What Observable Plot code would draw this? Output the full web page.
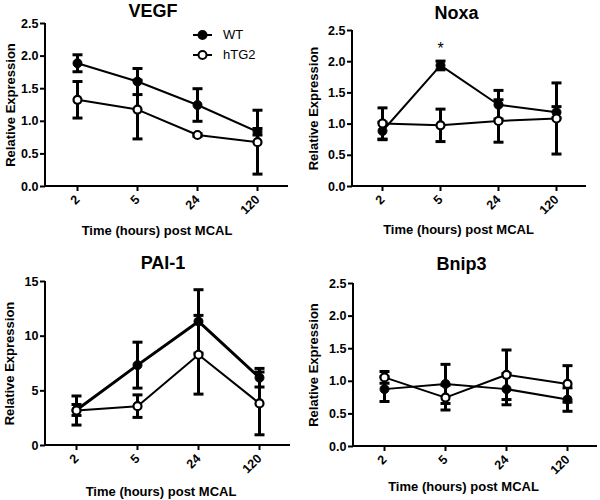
<!DOCTYPE html>
<html><head><meta charset="utf-8">
<script src="https://cdn.jsdelivr.net/npm/d3@7"></script>
<script src="https://cdn.jsdelivr.net/npm/@observablehq/plot@0.6"></script>
<style>
body{margin:0;background:#fff;}
#fig{position:relative;width:600px;height:500px;overflow:hidden;font-family:"Liberation Sans",Arial,sans-serif;background:#fff;}
.panel{position:absolute;}
.leg{position:absolute;font-size:13px;color:#000;line-height:13px;white-space:nowrap;}
.legsym{position:absolute;}
</style></head><body><div id="fig"></div>
<script>
// ---- data ----
const times = ["2", "5", "24", "120"];
const seriesNames = ["WT", "hTG2"];
const xLabel = "Time (hours) post MCAL";
const yLabel = "Relative Expression";

const vegfWT = [1.89, 1.61, 1.25, 0.84];
const vegfWTerr = [0.13, 0.20, 0.25, 0.05];
const vegfTG = [1.33, 1.18, 0.79, 0.68];
const vegfTGerr = [0.28, 0.45, 0.02, 0.49];

const noxaWT = [0.89, 1.94, 1.31, 1.19];
const noxaWTerr = [0.14, 0.07, 0.23, 0.09];
const noxaTG = [1.01, 0.98, 1.05, 1.09];
const noxaTGerr = [0.25, 0.26, 0.34, 0.57];
const noxaSignificant = ["5"];

const paiWT = [3.25, 7.35, 11.35, 6.2];
const paiWTerr = [0.5, 2.1, 2.9, 0.85];
const paiTG = [3.2, 3.6, 8.3, 3.85];
const paiTGerr = [1.33, 1.03, 3.6, 2.87];

const bnipWT = [0.88, 0.96, 0.88, 0.72];
const bnipWTerr = [0.19, 0.30, 0.24, 0.18];
const bnipTG = [1.06, 0.75, 1.10, 0.96];
const bnipTGerr = [0.09, 0.19, 0.38, 0.28];

const yTicksSmall = [0, 0.5, 1.0, 1.5, 2.0, 2.5];
const yTicksPAI = [0, 5, 10, 15];

// ---- build ----
function rows(means, errs) {
  return times.map((t, i) => ({time: t, y: means[i], lo: means[i] - errs[i], hi: means[i] + errs[i]}));
}

function axisLines(index, scales, values, dims) {
  const {width, height, marginLeft, marginRight, marginTop, marginBottom} = dims;
  const p = document.createElementNS("http://www.w3.org/2000/svg", "path");
  p.setAttribute("d", `M${marginLeft},${marginTop}V${height - marginBottom}H${width - marginRight}`);
  p.setAttribute("fill", "none");
  p.setAttribute("stroke", "#000");
  p.setAttribute("stroke-width", "2");
  return p;
}

// horizontal cap symbol for error bars
const capSymbol = {draw(ctx) { ctx.moveTo(-5, 0); ctx.lineTo(5, 0); }};

const panels = [
  {title: "VEGF", wt: rows(vegfWT, vegfWTerr), tg: rows(vegfTG, vegfTGerr), ticks: yTicksSmall, domain: [0, 2.5], fmt: ".1f",
   left: 0, top: 0, mt: 23, mb: 64, ml: 45, mr: 12, tdx: -14, tdy: -12, xdx: -10, xdy: 44, ydx: -35, wtw: 2},
  {title: "Noxa", wt: rows(noxaWT, noxaWTerr), tg: rows(noxaTG, noxaTGerr), ticks: yTicksSmall, domain: [0, 2.5], fmt: ".1f",
   left: 300, top: 0, mt: 30, mb: 64, ml: 52, mr: 14, tdx: -13, tdy: -17, xdx: -11, xdy: 43, ydx: -39, wtw: 2, sig: noxaSignificant},
  {title: "PAI-1", wt: rows(paiWT, paiWTerr), tg: rows(paiTG, paiTGerr), ticks: yTicksPAI, domain: [0, 15], fmt: "d",
   left: 0, top: 250, mt: 31, mb: 55, ml: 45, mr: 10, tdx: -5, tdy: -18, xdx: -7, xdy: 46, ydx: -36, wtw: 3},
  {title: "Bnip3", wt: rows(bnipWT, bnipWTerr), tg: rows(bnipTG, bnipTGerr), ticks: yTicksSmall, domain: [0, 2.5], fmt: ".1f",
   left: 300, top: 250, mt: 33, mb: 54, ml: 53, mr: 3, tdx: -14, tdy: -19, xdx: -12, xdy: 40, ydx: -40, wtw: 2}
];

const fig = document.getElementById("fig");

for (const p of panels) {
  const all = p.wt.concat(p.tg);
  const marks = [
    axisLines,
    Plot.axisX({tickRotate: -45, tickSize: 5, tickPadding: 6, label: null, strokeWidth: 2, fontSize: 12.5, fontWeight: "bold"}),
    Plot.axisY({ticks: p.ticks, tickFormat: d3.format(p.fmt), tickSize: 5, tickPadding: 2, label: null, strokeWidth: 2, fontSize: 12.5, fontWeight: "bold"}),
    Plot.line(p.wt, {x: "time", y: "y", stroke: "#000", strokeWidth: p.wtw}),
    Plot.line(p.tg, {x: "time", y: "y", stroke: "#000", strokeWidth: 2}),
    Plot.ruleX(all, {x: "time", y1: "lo", y2: "hi", stroke: "#000", strokeWidth: 3}),
    Plot.dot(all, {x: "time", y: "lo", symbol: capSymbol, fill: "none", stroke: "#000", strokeWidth: 3}),
    Plot.dot(all, {x: "time", y: "hi", symbol: capSymbol, fill: "none", stroke: "#000", strokeWidth: 3}),
    Plot.dot(p.wt, {x: "time", y: "y", r: 4.5, fill: "#000", stroke: "#000", strokeWidth: 1}),
    Plot.dot(p.tg, {x: "time", y: "y", r: 4, fill: "#fff", stroke: "#000", strokeWidth: 2.2}),
    Plot.text([p.title], {frameAnchor: "top", text: d => d, dx: p.tdx, dy: p.tdy, textAnchor: "middle", lineAnchor: "middle", fontSize: 18, fontWeight: "bold", fill: "#000"}),
    Plot.text([xLabel], {frameAnchor: "bottom", text: d => d, dx: p.xdx, dy: p.xdy, textAnchor: "middle", lineAnchor: "middle", fontSize: 13, fontWeight: "bold", fill: "#000"}),
    Plot.text([yLabel], {frameAnchor: "left", text: d => d, dx: p.ydx, rotate: -90, textAnchor: "middle", lineAnchor: "middle", fontSize: 13, fontWeight: "bold", fill: "#000"})
  ];
  if (p.sig) {
    const sigRows = p.wt.filter(d => p.sig.includes(d.time));
    marks.push(Plot.text(sigRows, {x: "time", y: "hi", text: () => "*", dy: -12, lineAnchor: "middle", fontSize: 16, fontWeight: "normal", fill: "#000"}));
  }
  const chart = Plot.plot({
    width: 300, height: 250,
    marginTop: p.mt, marginBottom: p.mb, marginLeft: p.ml, marginRight: p.mr,
    style: {fontFamily: "'Liberation Sans', Arial, sans-serif", fontSize: "13px", fontWeight: "bold", color: "#000", background: "transparent", overflow: "visible"},
    x: {type: "point", domain: times, padding: 0.5},
    y: {domain: p.domain},
    marks
  });
  chart.classList.add("panel");
  chart.style.left = p.left + "px";
  chart.style.top = p.top + "px";
  fig.appendChild(chart);
}

// ---- legend (VEGF panel) ----
const legendRows = [
  {name: seriesNames[0], fill: "#000", top: 35},
  {name: seriesNames[1], fill: "#fff", top: 55}
];
for (const r of legendRows) {
  const svgNS = "http://www.w3.org/2000/svg";
  const s = document.createElementNS(svgNS, "svg");
  s.setAttribute("width", 22); s.setAttribute("height", 12);
  s.classList.add("legsym");
  s.style.left = "192px"; s.style.top = (r.top - 6) + "px";
  const ln = document.createElementNS(svgNS, "line");
  ln.setAttribute("x1", 1); ln.setAttribute("x2", 20); ln.setAttribute("y1", 6); ln.setAttribute("y2", 6);
  ln.setAttribute("stroke", "#000"); ln.setAttribute("stroke-width", 2);
  const c = document.createElementNS(svgNS, "circle");
  c.setAttribute("cx", 10.5); c.setAttribute("cy", 6); c.setAttribute("r", 4);
  c.setAttribute("fill", r.fill); c.setAttribute("stroke", "#000"); c.setAttribute("stroke-width", 2);
  s.appendChild(ln); s.appendChild(c);
  fig.appendChild(s);
  const t = document.createElement("div");
  t.className = "leg";
  t.textContent = r.name;
  t.style.left = "223px"; t.style.top = (r.top - 7) + "px";
  fig.appendChild(t);
}
</script>
</body></html>
